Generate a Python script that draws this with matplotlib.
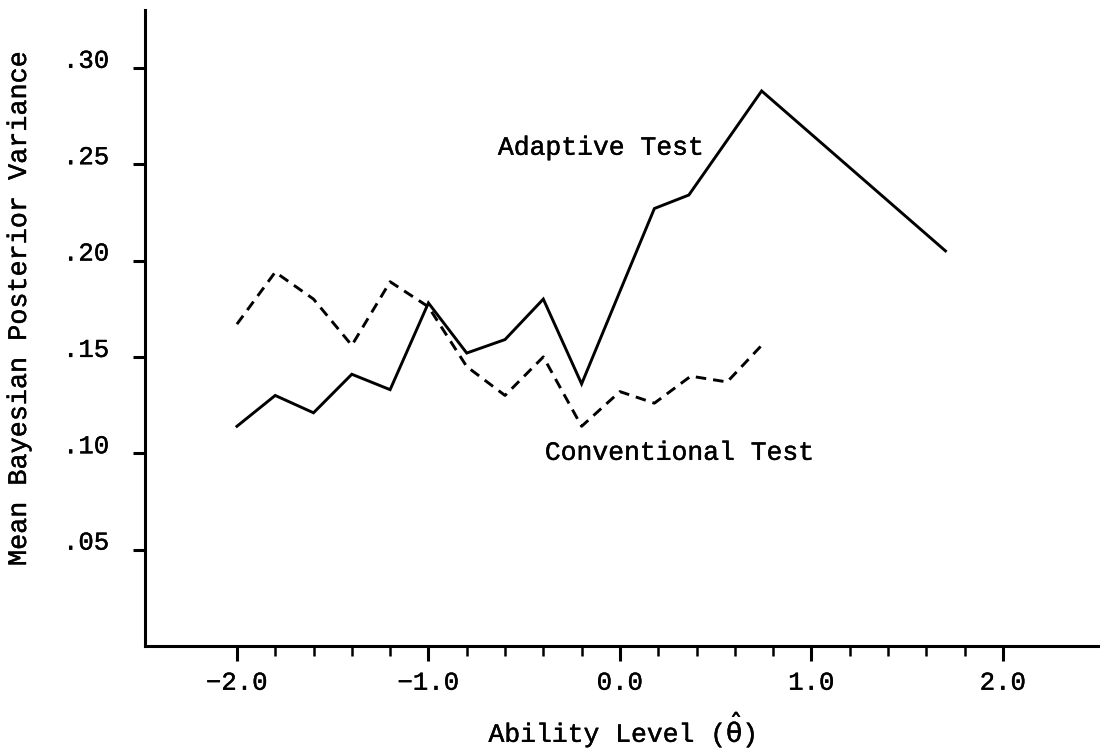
import matplotlib
matplotlib.use("Agg")
import matplotlib.pyplot as plt
import matplotlib.patheffects as pe

plt.rcParams['font.family'] = ['Liberation Mono', 'DejaVu Sans Mono', 'DejaVu Sans']
plt.rcParams['mathtext.fontset'] = 'dejavusans'

# Ability levels and mean posterior variances
adaptive_x = [-2.0, -1.8, -1.6, -1.4, -1.2, -1.0, -0.8, -0.6, -0.4, -0.2, 0.0, 0.18, 0.36, 0.74, 1.70]
adaptive_y = [0.114, 0.130, 0.121, 0.141, 0.133, 0.178, 0.152, 0.159, 0.180, 0.136, 0.184, 0.227, 0.234, 0.288, 0.205]

conventional_x = [-2.0, -1.8, -1.6, -1.4, -1.2, -1.0, -0.8, -0.6, -0.4, -0.2, 0.0, 0.18, 0.37, 0.56, 0.74]
conventional_y = [0.167, 0.194, 0.180, 0.156, 0.189, 0.176, 0.145, 0.130, 0.150, 0.114, 0.132, 0.126, 0.140, 0.137, 0.156]

x_ticks = [-2.0, -1.0, 0.0, 1.0, 2.0]
x_tick_labels = ['\u22122.0', '\u22121.0', '0.0', '1.0', '2.0']
x_minor_ticks = [-1.8, -1.6, -1.4, -1.2, -0.8, -0.6, -0.4, -0.2,
                 0.2, 0.4, 0.6, 0.8, 1.2, 1.4, 1.6, 1.8]
y_ticks = [0.05, 0.10, 0.15, 0.20, 0.25, 0.30]
y_tick_labels = ['.05', '.10', '.15', '.20', '.25', '.30']

# a touch of extra weight for the typewriter lettering
ink = [pe.withStroke(linewidth=0.3, foreground='black')]

fig = plt.figure(figsize=(11, 7.5), dpi=100)
ax = fig.add_axes([145 / 1100, 104 / 750, 955 / 1100, 636 / 750])

ax.plot(adaptive_x, adaptive_y, color='black', lw=2.1, solid_joinstyle='miter')
ax.plot(conventional_x, conventional_y, color='black', lw=2.1,
        linestyle=(0, (3.6, 2.4)))

ax.set_xlim(-2.48, 2.507)
ax.set_ylim(0, 0.330)

for side in ('top', 'right'):
    ax.spines[side].set_visible(False)
for side in ('left', 'bottom'):
    ax.spines[side].set_linewidth(2.2)

ax.set_xticks(x_ticks)
ax.set_xticklabels(x_tick_labels, fontsize=18.5)
ax.set_xticks(x_minor_ticks, minor=True)
ax.set_yticks(y_ticks)
ax.set_yticklabels(y_tick_labels, fontsize=18.5)
for lbl in ax.get_yticklabels():
    lbl.set_va('baseline')
    lbl.set_path_effects(ink)
for lbl in ax.get_xticklabels():
    lbl.set_path_effects(ink)

ax.tick_params(axis='x', which='major', direction='out', length=10.8, width=2.2, pad=7)
ax.tick_params(axis='x', which='minor', direction='out', length=7.0, width=1.8)
ax.tick_params(axis='y', which='major', direction='out', length=8.6, width=2.2, pad=17)

ax.text(-0.637, 0.2549, 'Adaptive Test', fontsize=19, ha='left', va='baseline',
        path_effects=ink)
ax.text(-0.392, 0.0966, 'Conventional Test', fontsize=19, ha='left', va='baseline',
        path_effects=ink)

fig.text(19 / 1100, 1 - 310 / 750, 'Mean Bayesian Posterior Variance',
         rotation=90, fontsize=19.3, ha='center', va='center', path_effects=ink)

fig.text(622 / 1100, 1 - 742 / 750, r'Ability Level ($\hat{\mathrm{\theta}}$)',
         fontsize=19, ha='center', va='baseline', path_effects=ink)

fig.savefig('out.png', dpi=100)
